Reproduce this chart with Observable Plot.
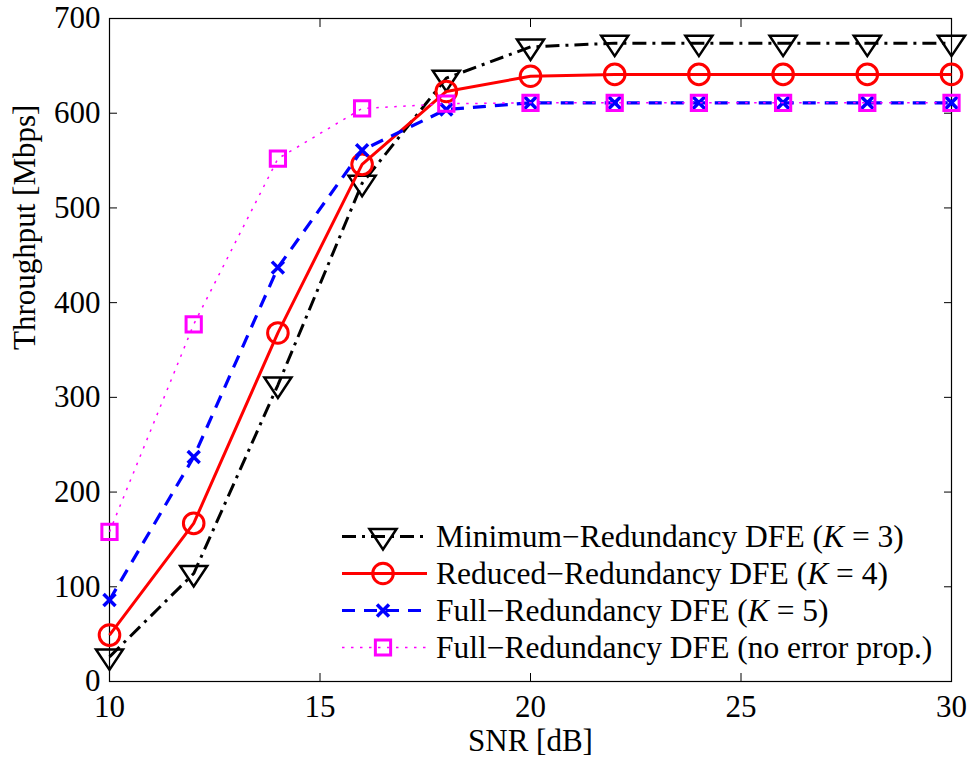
<!DOCTYPE html>
<html><head><meta charset="utf-8">
<script src="https://cdn.jsdelivr.net/npm/d3@7"></script>
<script src="https://cdn.jsdelivr.net/npm/@observablehq/plot@0.6"></script>
<style>
body{margin:0;background:#fff;}
#wrap{position:relative;width:970px;height:760px;font-family:"Liberation Serif","Times New Roman",serif;}
#legend{position:absolute;left:338px;top:518px;}
.row{display:flex;align-items:center;height:37px;font-size:31.5px;color:#000;white-space:nowrap;line-height:37px;}
.row svg{flex:none;margin-right:6px;}
</style></head><body><div id="wrap"></div>
<script>
const snr = [10, 12, 14, 16, 18, 20, 22, 24, 26, 28, 30];
const minRedundancy = [26, 114, 313, 526, 637, 670, 674, 674, 674, 674, 674];
const reducedRedundancy = [49, 167, 368, 546, 623, 639, 641, 641, 641, 641, 641];
const fullRedundancy = [86, 237, 437, 561, 604, 611, 611, 611, 611, 611, 611];
const noErrorProp = [158, 377, 552, 605, 610, 611, 611, 611, 611, 611, 611];
const xTicks = [10, 15, 20, 25, 30];
const yTicks = [0, 100, 200, 300, 400, 500, 600, 700];
const seriesLabels = [
  "Minimum−Redundancy DFE (<i>K</i> = 3)",
  "Reduced−Redundancy DFE (<i>K</i> = 4)",
  "Full−Redundancy DFE (<i>K</i> = 5)",
  "Full−Redundancy DFE (no error prop.)"
];
const seriesValues = [minRedundancy, reducedRedundancy, fullRedundancy, noErrorProp];

const downTriangle = {
  draw(ctx, size) {
    const r = Math.sqrt(size / Math.PI);
    ctx.moveTo(-1.23 * r, -0.68 * r);
    ctx.lineTo(1.23 * r, -0.68 * r);
    ctx.lineTo(0, 1.18 * r);
    ctx.closePath();
  }
};
const styles = [
  {color: "#000000", width: 3, dash: "14,6,3,6", symbol: downTriangle, r: 11, mw: 2.5},
  {color: "#ff0000", width: 3, dash: null, symbol: "circle", r: 10.3, mw: 3},
  {color: "#0000ff", width: 3.2, dash: "13,9", symbol: "times", r: 5.5, mw: 3.5},
  {color: "#ff00ff", width: 1.5, dash: "2.5,6.5", symbol: "square", r: 8.6, mw: 3}
];

const rows = seriesValues.map(vals => snr.map((x, i) => ({x, y: vals[i]})));
const F = "Liberation Serif";

const marks = [Plot.frame({stroke: "black", strokeWidth: 1.2})];
rows.forEach((data, k) => {
  const s = styles[k];
  marks.push(Plot.line(data, {x: "x", y: "y", stroke: s.color, strokeWidth: s.width, strokeDasharray: s.dash, strokeLinecap: "butt"}));
  marks.push(Plot.dot(data, {x: "x", y: "y", symbol: s.symbol, r: s.r, stroke: s.color, strokeWidth: s.mw, fill: "none"}));
});
marks.push(
  Plot.axisX(xTicks, {anchor: "bottom", tickSize: -8, tickPadding: 21, fontSize: 31, fontFamily: F, stroke: "black", fill: "black", label: null}),
  Plot.axisX(xTicks, {anchor: "top", tickSize: -8, tickFormat: () => "", stroke: "black", label: null}),
  Plot.axisY(yTicks, {anchor: "left", tickSize: -8, tickPadding: 17, fontSize: 31, fontFamily: F, stroke: "black", fill: "black", label: null}),
  Plot.axisY(yTicks, {anchor: "right", tickSize: -8, tickFormat: () => "", stroke: "black", label: null}),
  Plot.text(["SNR [dB]"], {text: d => d, frameAnchor: "bottom", dy: 69, fontSize: 31, fontFamily: F, fill: "black"}),
  Plot.text(["Throughput [Mbps]"], {text: d => d, frameAnchor: "left", dx: -84, rotate: -90, fontSize: 31, fontFamily: F, fill: "black"})
);

const chart = Plot.plot({
  width: 970,
  height: 760,
  marginLeft: 109,
  marginRight: 19,
  marginTop: 18,
  marginBottom: 79,
  style: {fontFamily: F, background: "white", color: "black"},
  x: {domain: [10, 30]},
  y: {domain: [0, 700]},
  marks
});
const wrap = document.getElementById("wrap");
wrap.appendChild(chart);

// legend
const legend = document.createElement("div");
legend.id = "legend";
styles.forEach((s, k) => {
  const row = document.createElement("div");
  row.className = "row";
  const svg = d3.create("svg").attr("width", 92).attr("height", 37);
  svg.append("line").attr("x1", 4).attr("x2", 89).attr("y1", 18.5).attr("y2", 18.5)
    .attr("stroke", s.color).attr("stroke-width", s.width)
    .attr("stroke-dasharray", s.dash).attr("stroke-linecap", "butt");
  const symType = s.symbol === "circle" ? d3.symbolCircle : s.symbol === "times" ? d3.symbolTimes : s.symbol === "square" ? d3.symbolSquare : s.symbol;
  svg.append("path").attr("transform", "translate(45,18.5)")
    .attr("d", d3.symbol(symType, s.r * s.r * Math.PI)())
    .attr("fill", "none").attr("stroke", s.color).attr("stroke-width", s.mw);
  row.appendChild(svg.node());
  const span = document.createElement("span");
  span.innerHTML = seriesLabels[k];
  row.appendChild(span);
  legend.appendChild(row);
});
wrap.appendChild(legend);
</script></body></html>
